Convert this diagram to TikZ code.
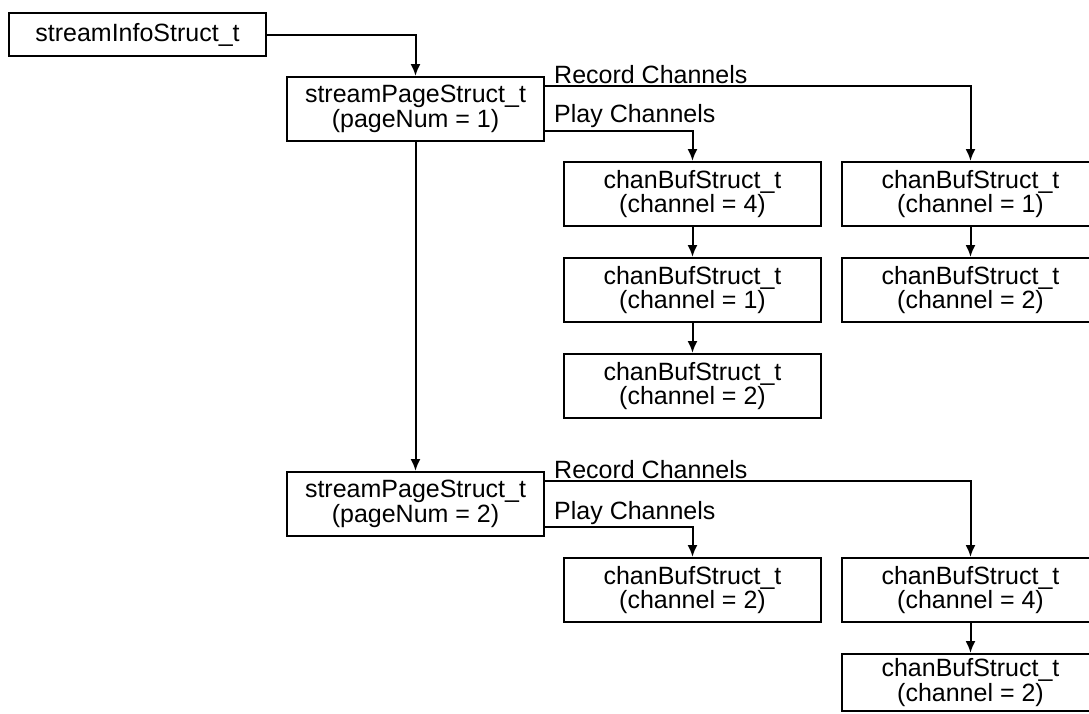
\documentclass[tikz,border=0pt]{standalone}
\usepackage{fontspec}
\setmainfont{Liberation Sans}
\usetikzlibrary{arrows.meta}
\begin{document}
\begin{tikzpicture}[x=1pt,y=-1pt,
  every node/.style={font=\fontsize{25}{23}\selectfont, inner sep=0pt},
  box/.style={draw, line width=2pt, minimum width=257pt, minimum height=64pt, align=center},
  lbl/.style={anchor=base west},
  link/.style={line width=2pt, -{Latex[length=12pt,width=10pt]}}
]
\useasboundingbox (0,0) rectangle (1089,713);

% structures
\node[box, minimum height=43pt] (info) at (137.5,34.5) {streamInfoStruct\_t};
\node[box] (p1) at (415.5,109) {streamPageStruct\_t\\(pageNum = 1)};
\node[box] (p2) at (415.5,504) {streamPageStruct\_t\\(pageNum = 2)};

% page 1 channel buffers
\node[box] (a1) at (692.5,194) {chanBufStruct\_t\\(channel = 4)};
\node[box] (a2) at (692.5,290) {chanBufStruct\_t\\(channel = 1)};
\node[box] (a3) at (692.5,386) {chanBufStruct\_t\\(channel = 2)};
\node[box] (b1) at (970.5,194) {chanBufStruct\_t\\(channel = 1)};
\node[box] (b2) at (970.5,290) {chanBufStruct\_t\\(channel = 2)};

% page 2 channel buffers
\node[box] (c1) at (692.5,590) {chanBufStruct\_t\\(channel = 2)};
\node[box] (d1) at (970.5,590) {chanBufStruct\_t\\(channel = 4)};
\node[box, minimum height=57pt] (d2) at (970.5,682.5) {chanBufStruct\_t\\(channel = 2)};

% branch labels
\node[lbl] (r1) at (554,83) {Record Channels};
\node[lbl] (q1) at (554,122) {Play Channels};
\node[lbl] (r2) at (554,478) {Record Channels};
\node[lbl] (q2) at (554,519) {Play Channels};

% connectors
\draw[link] (info.east) -| (p1.north);
\draw[link] (p1.south) -- (p2.north);
\draw[link] ([yshift=-10pt]p1.north east) -| (b1.north);
\draw[link] ([yshift=11pt]p1.south east) -| (a1.north);
\draw[link] (a1.south) -- (a2.north);
\draw[link] (a2.south) -- (a3.north);
\draw[link] (b1.south) -- (b2.north);
\draw[link] ([yshift=-10pt]p2.north east) -| (d1.north);
\draw[link] ([yshift=10pt]p2.south east) -| (c1.north);
\draw[link] (d1.south) -- (d2.north);
\end{tikzpicture}
\end{document}
